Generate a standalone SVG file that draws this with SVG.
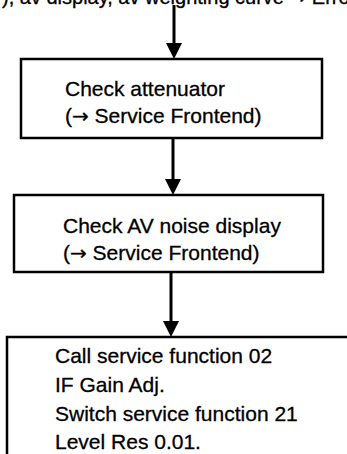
<svg xmlns="http://www.w3.org/2000/svg" width="347" height="454" viewBox="0 0 347 454">
<style>
.box{fill:#fff;stroke:#000;stroke-width:2.5}
.t{font-family:"Liberation Sans",Arial,Helvetica,sans-serif;font-size:21px;fill:#000;stroke:#000;stroke-width:0.3}
.top{font-size:20px}
.ar{font-family:"DejaVu Sans",sans-serif;font-size:20px}
.edge{stroke:#000;stroke-width:3;fill:none}
</style>
<text class="t top" x="2" y="4">), av display, av weighting curve <tspan class="ar">→</tspan> Error</text>
<g id="connectors">
<line class="edge" x1="174" y1="5" x2="174" y2="44"/>
<path d="M166,43 L182,43 L174,59 Z" fill="#000"/>
<line class="edge" x1="173" y1="138" x2="173" y2="180"/>
<path d="M165,179 L181,179 L173,195 Z" fill="#000"/>
<line class="edge" x1="171" y1="272" x2="171" y2="322"/>
<path d="M163,321 L179,321 L171,337 Z" fill="#000"/>
</g>
<g id="node1">
<rect class="box" x="21" y="59" width="301" height="79"/>
<text class="t" x="65" y="96">Check attenuator</text>
<text class="t" x="65" y="123">(<tspan class="ar">→</tspan> Service Frontend)</text>
</g>
<g id="node2">
<rect class="box" x="14" y="195" width="309" height="77"/>
<text class="t" x="63" y="233">Check AV noise display</text>
<text class="t" x="63" y="260">(<tspan class="ar">→</tspan> Service Frontend)</text>
</g>
<g id="node3">
<rect class="box" x="7" y="337" width="360" height="140"/>
<text class="t" x="55" y="363">Call service function 02</text>
<text class="t" x="55" y="392">IF Gain Adj.</text>
<text class="t" x="55" y="421">Switch service function 21</text>
<text class="t" x="55" y="449">Level Res 0.01.</text>
</g>
</svg>
